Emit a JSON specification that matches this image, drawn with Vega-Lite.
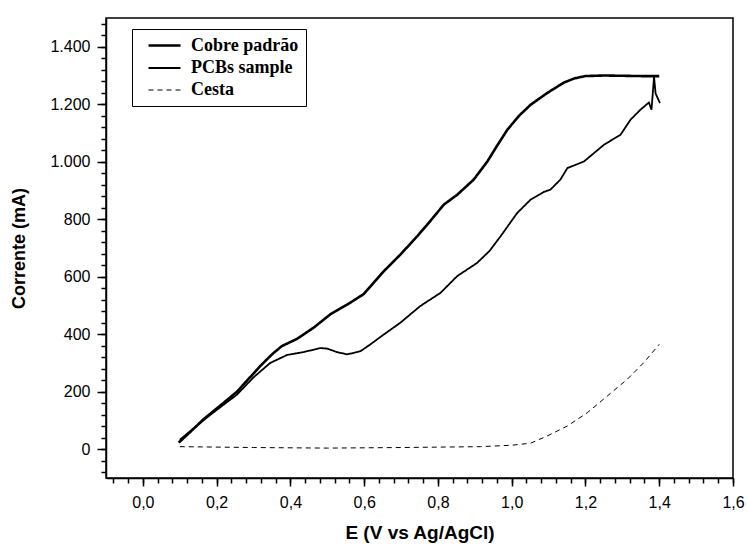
{
  "$schema": "https://vega.github.io/schema/vega-lite/v6.json",
  "width": 627,
  "height": 460,
  "autosize": {"type": "none"},
  "padding": {"left": 106, "top": 18, "right": 15, "bottom": 72},
  "background": "white",
  "config": {
    "view": {"stroke": "black", "strokeWidth": 1.5},
    "font": "Liberation Sans"
  },
  "data": {
    "values": [
      {"E": 0.097, "I": 23, "s": "Cobre padrão"},
      {"E": 0.13, "I": 62, "s": "Cobre padrão"},
      {"E": 0.164, "I": 104, "s": "Cobre padrão"},
      {"E": 0.21, "I": 152, "s": "Cobre padrão"},
      {"E": 0.255, "I": 200, "s": "Cobre padrão"},
      {"E": 0.318, "I": 289, "s": "Cobre padrão"},
      {"E": 0.35, "I": 330, "s": "Cobre padrão"},
      {"E": 0.377, "I": 359, "s": "Cobre padrão"},
      {"E": 0.418, "I": 384, "s": "Cobre padrão"},
      {"E": 0.463, "I": 423, "s": "Cobre padrão"},
      {"E": 0.508, "I": 469, "s": "Cobre padrão"},
      {"E": 0.554, "I": 503, "s": "Cobre padrão"},
      {"E": 0.599, "I": 540, "s": "Cobre padrão"},
      {"E": 0.653, "I": 619, "s": "Cobre padrão"},
      {"E": 0.698, "I": 677, "s": "Cobre padrão"},
      {"E": 0.744, "I": 741, "s": "Cobre padrão"},
      {"E": 0.78, "I": 795, "s": "Cobre padrão"},
      {"E": 0.816, "I": 851, "s": "Cobre padrão"},
      {"E": 0.852, "I": 885, "s": "Cobre padrão"},
      {"E": 0.897, "I": 938, "s": "Cobre padrão"},
      {"E": 0.934, "I": 1001, "s": "Cobre padrão"},
      {"E": 0.96, "I": 1055, "s": "Cobre padrão"},
      {"E": 0.988, "I": 1111, "s": "Cobre padrão"},
      {"E": 1.02, "I": 1160, "s": "Cobre padrão"},
      {"E": 1.051, "I": 1198, "s": "Cobre padrão"},
      {"E": 1.096, "I": 1239, "s": "Cobre padrão"},
      {"E": 1.141, "I": 1275, "s": "Cobre padrão"},
      {"E": 1.17, "I": 1290, "s": "Cobre padrão"},
      {"E": 1.2, "I": 1298, "s": "Cobre padrão"},
      {"E": 1.25, "I": 1300, "s": "Cobre padrão"},
      {"E": 1.3, "I": 1299, "s": "Cobre padrão"},
      {"E": 1.35, "I": 1298, "s": "Cobre padrão"},
      {"E": 1.4, "I": 1298, "s": "Cobre padrão"},
      {"E": 0.1, "I": 33, "s": "PCBs sample"},
      {"E": 0.183, "I": 120, "s": "PCBs sample"},
      {"E": 0.255, "I": 190, "s": "PCBs sample"},
      {"E": 0.3, "I": 250, "s": "PCBs sample"},
      {"E": 0.345, "I": 300, "s": "PCBs sample"},
      {"E": 0.391, "I": 328, "s": "PCBs sample"},
      {"E": 0.436, "I": 338, "s": "PCBs sample"},
      {"E": 0.481, "I": 352, "s": "PCBs sample"},
      {"E": 0.5, "I": 350, "s": "PCBs sample"},
      {"E": 0.526, "I": 338, "s": "PCBs sample"},
      {"E": 0.554, "I": 330, "s": "PCBs sample"},
      {"E": 0.59, "I": 341, "s": "PCBs sample"},
      {"E": 0.617, "I": 365, "s": "PCBs sample"},
      {"E": 0.653, "I": 399, "s": "PCBs sample"},
      {"E": 0.698, "I": 440, "s": "PCBs sample"},
      {"E": 0.752, "I": 498, "s": "PCBs sample"},
      {"E": 0.807, "I": 544, "s": "PCBs sample"},
      {"E": 0.852, "I": 602, "s": "PCBs sample"},
      {"E": 0.906, "I": 648, "s": "PCBs sample"},
      {"E": 0.94, "I": 690, "s": "PCBs sample"},
      {"E": 0.97, "I": 741, "s": "PCBs sample"},
      {"E": 1.015, "I": 822, "s": "PCBs sample"},
      {"E": 1.051, "I": 868, "s": "PCBs sample"},
      {"E": 1.087, "I": 895, "s": "PCBs sample"},
      {"E": 1.105, "I": 903, "s": "PCBs sample"},
      {"E": 1.132, "I": 938, "s": "PCBs sample"},
      {"E": 1.151, "I": 978, "s": "PCBs sample"},
      {"E": 1.196, "I": 1001, "s": "PCBs sample"},
      {"E": 1.25, "I": 1059, "s": "PCBs sample"},
      {"E": 1.295, "I": 1094, "s": "PCBs sample"},
      {"E": 1.322, "I": 1146, "s": "PCBs sample"},
      {"E": 1.349, "I": 1181, "s": "PCBs sample"},
      {"E": 1.372, "I": 1206, "s": "PCBs sample"},
      {"E": 1.379, "I": 1181, "s": "PCBs sample"},
      {"E": 1.386, "I": 1296, "s": "PCBs sample"},
      {"E": 1.39, "I": 1238, "s": "PCBs sample"},
      {"E": 1.402, "I": 1204, "s": "PCBs sample"},
      {"E": 0.1, "I": 9, "s": "Cesta"},
      {"E": 0.3, "I": 6, "s": "Cesta"},
      {"E": 0.5, "I": 4, "s": "Cesta"},
      {"E": 0.7, "I": 6, "s": "Cesta"},
      {"E": 0.915, "I": 9, "s": "Cesta"},
      {"E": 1.0, "I": 14, "s": "Cesta"},
      {"E": 1.051, "I": 21, "s": "Cesta"},
      {"E": 1.096, "I": 46, "s": "Cesta"},
      {"E": 1.151, "I": 81, "s": "Cesta"},
      {"E": 1.205, "I": 127, "s": "Cesta"},
      {"E": 1.259, "I": 185, "s": "Cesta"},
      {"E": 1.313, "I": 243, "s": "Cesta"},
      {"E": 1.358, "I": 301, "s": "Cesta"},
      {"E": 1.4, "I": 365, "s": "Cesta"}
    ]
  },
  "resolve": {"axis": {"x": "independent", "y": "independent"}},
  "layer": [
    {
      "mark": {"type": "line", "opacity": 0},
      "encoding": {
        "x": {
          "field": "E", "type": "quantitative",
          "scale": {"domain": [-0.1, 1.6], "nice": false, "zero": false},
          "axis": {
            "orient": "bottom", "title": null, "labels": false, "grid": false, "domain": false,
            "values": [-0.08, -0.04, 0, 0.04, 0.08, 0.12, 0.16, 0.2, 0.24, 0.28, 0.32, 0.36, 0.4, 0.44, 0.48, 0.52, 0.56, 0.6, 0.64, 0.68, 0.72, 0.76, 0.8, 0.84, 0.88, 0.92, 0.96, 1.0, 1.04, 1.08, 1.12, 1.16, 1.2, 1.24, 1.28, 1.32, 1.36, 1.4, 1.44, 1.48, 1.52, 1.56, 1.6],
            "tickColor": "black", "tickWidth": 1.5, "tickSize": 5
          }
        },
        "y": {
          "field": "I", "type": "quantitative",
          "scale": {"domain": [-100, 1500], "nice": false, "zero": false},
          "axis": {
            "orient": "left", "title": null, "labels": false, "grid": false, "domain": false,
            "values": [-80, -40, 0, 40, 80, 120, 160, 200, 240, 280, 320, 360, 400, 440, 480, 520, 560, 600, 640, 680, 720, 760, 800, 840, 880, 920, 960, 1000, 1040, 1080, 1120, 1160, 1200, 1240, 1280, 1320, 1360, 1400, 1440, 1480],
            "tickColor": "black", "tickWidth": 1.5, "tickSize": 5
          }
        },
        "detail": {"field": "s"}
      }
    },
    {
      "mark": {"type": "line", "color": "black"},
      "encoding": {
        "x": {
          "field": "E", "type": "quantitative",
          "scale": {"domain": [-0.1, 1.6], "nice": false, "zero": false},
          "axis": {
            "orient": "bottom",
            "title": "E (V vs Ag/AgCl)",
            "titleFont": "Liberation Sans", "titleFontSize": 19, "titleFontWeight": "bold", "titleColor": "black",
            "titlePadding": 13,
            "values": [0, 0.2, 0.4, 0.6, 0.8, 1.0, 1.2, 1.4, 1.6],
            "labelExpr": "replace(format(datum.value, '.1f'), '.', ',')",
            "labelFontSize": 16, "labelColor": "black", "labelPadding": 8, "labelFlush": false,
            "grid": false,
            "domainColor": "black", "domainWidth": 1.5,
            "tickColor": "black", "tickWidth": 1.5, "tickSize": 8
          }
        },
        "y": {
          "field": "I", "type": "quantitative",
          "scale": {"domain": [-100, 1500], "nice": false, "zero": false},
          "axis": {
            "orient": "left",
            "title": "Corrente (mA)",
            "titleFont": "Liberation Sans", "titleFontSize": 18, "titleFontWeight": "bold", "titleColor": "black",
            "titlePadding": 21,
            "values": [0, 200, 400, 600, 800, 1000, 1200, 1400],
            "labelExpr": "replace(format(datum.value, ','), ',', '.')",
            "labelFontSize": 16, "labelColor": "black", "labelPadding": 7,
            "grid": false,
            "domainColor": "black", "domainWidth": 1.5,
            "tickColor": "black", "tickWidth": 1.5, "tickSize": 9
          }
        },
        "detail": {"field": "s"},
        "strokeDash": {
          "field": "s", "type": "nominal",
          "scale": {"domain": ["Cobre padrão", "PCBs sample", "Cesta"], "range": [[1, 0], [1, 0], [5, 4]]},
          "legend": {
            "title": null,
            "orient": "none", "legendX": 26, "legendY": 11,
            "strokeColor": "black", "fillColor": "white",
            "padding": 7, "rowPadding": 4,
            "symbolType": "M-2,0H2", "symbolSize": 256, "symbolStrokeColor": "black", "symbolOffset": 16,
            "labelFont": "Liberation Serif", "labelFontSize": 18, "labelFontWeight": "bold", "labelColor": "black",
            "labelOffset": 17, "labelLimit": 300,
            "encode": {"symbols": {"update": {"strokeWidth": {"scale": "strokeWidth", "field": "value"}}}}
          }
        },
        "strokeWidth": {
          "field": "s", "type": "nominal",
          "scale": {"domain": ["Cobre padrão", "PCBs sample", "Cesta"], "range": [2.6, 1, 1]},
          "legend": {
            "title": null,
            "orient": "none", "legendX": 26, "legendY": 11,
            "strokeColor": "black", "fillColor": "white",
            "padding": 7, "rowPadding": 4,
            "symbolType": "M-2,0H2", "symbolSize": 256, "symbolStrokeColor": "black", "symbolOffset": 16,
            "labelFont": "Liberation Serif", "labelFontSize": 18, "labelFontWeight": "bold", "labelColor": "black",
            "labelOffset": 17, "labelLimit": 300,
            "encode": {"symbols": {"update": {"strokeWidth": {"scale": "strokeWidth", "field": "value"}}}}
          }
        }
      }
    }
  ]
}
